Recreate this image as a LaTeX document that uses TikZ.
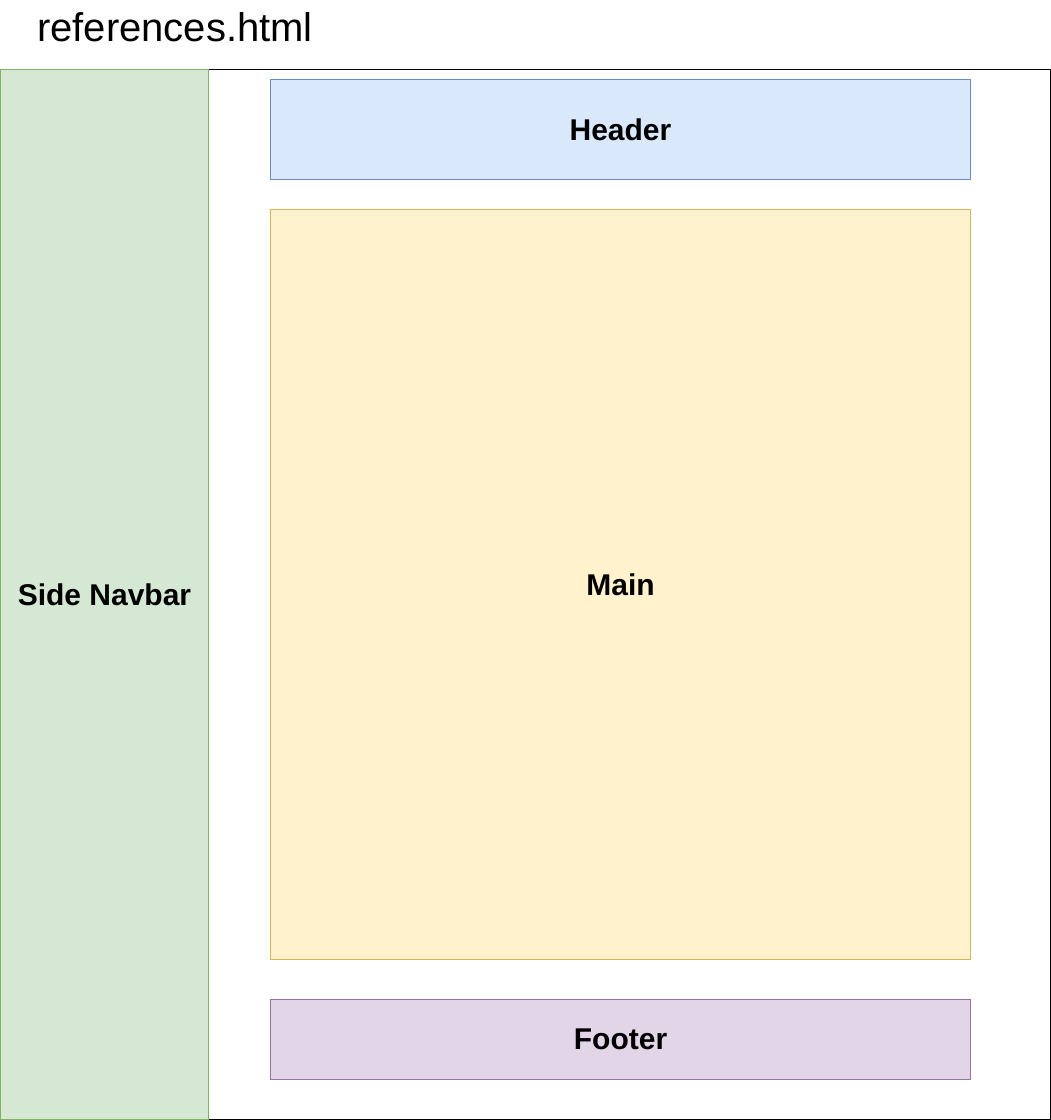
\documentclass[tikz,border=0pt]{standalone}
\usepackage{fontspec}
\setmainfont{Liberation Sans}
\begin{document}
\begin{tikzpicture}[x=1pt,y=-1pt,
  region/.style={draw, line width=1pt},
  label/.style={inner sep=0pt, font=\fontsize{30}{36}\selectfont\bfseries},
  frame/.style={draw=black, line width=1pt}]
  \useasboundingbox (0,0) rectangle (1051,1120);
  % page title
  \node[anchor=west, inner sep=0pt, font=\fontsize{40}{48}\selectfont] (title) at (37,27) {references.html};
  % page frame
  \draw[frame] (0.5,69.5) rectangle (1050.5,1119.5);
  % side navigation column
  \draw[region, fill={rgb,255:red,213;green,232;blue,212}, draw={rgb,255:red,130;green,179;blue,102}]
    (0.5,69.5) rectangle (208.5,1119.5);
  \node[label] (nav) at (104.5,595) {Side Navbar};
  % header
  \draw[region, fill={rgb,255:red,218;green,232;blue,252}, draw={rgb,255:red,108;green,142;blue,191}]
    (270.5,79.5) rectangle (970.5,179.5);
  \node[label] (header) at (620.5,129.5) {Header};
  % main content
  \draw[region, fill={rgb,255:red,255;green,242;blue,204}, draw={rgb,255:red,214;green,182;blue,86}]
    (270.5,209.5) rectangle (970.5,959.5);
  \node[label] (main) at (620.5,584.5) {Main};
  % footer
  \draw[region, fill={rgb,255:red,225;green,213;blue,231}, draw={rgb,255:red,150;green,115;blue,166}]
    (270.5,999.5) rectangle (970.5,1079.5);
  \node[label] (footer) at (620.5,1039.5) {Footer};
\end{tikzpicture}
\end{document}
